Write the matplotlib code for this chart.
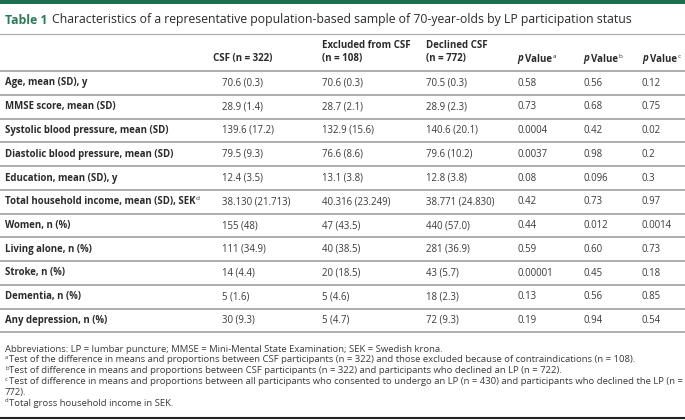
import matplotlib.pyplot as plt
from matplotlib.lines import Line2D
from matplotlib.patches import Rectangle

plt.rcParams['font.family'] = ['Open Sans', 'DejaVu Sans']

# table content
title_num = 'Table 1'
title_txt = 'Characteristics of a representative population-based sample of 70-year-olds by LP participation status'

row_labels = ['Age, mean (SD), y', 'MMSE score, mean (SD)', 'Systolic blood pressure, mean (SD)',
              'Diastolic blood pressure, mean (SD)', 'Education, mean (SD), y',
              'Total household income, mean (SD), SEK', 'Women, n (%)', 'Living alone, n (%)',
              'Stroke, n (%)', 'Dementia, n (%)', 'Any depression, n (%)']
label_sup = ['', '', '', '', '', 'd', '', '', '', '', '']

csf = ['70.6 (0.3)', '28.9 (1.4)', '139.6 (17.2)', '79.5 (9.3)', '12.4 (3.5)', '38.130 (21.713)',
       '155 (48)', '111 (34.9)', '14 (4.4)', '5 (1.6)', '30 (9.3)']
excluded = ['70.6 (0.3)', '28.7 (2.1)', '132.9 (15.6)', '76.6 (8.6)', '13.1 (3.8)', '40.316 (23.249)',
            '47 (43.5)', '40 (38.5)', '20 (18.5)', '5 (4.6)', '5 (4.7)']
declined = ['70.5 (0.3)', '28.9 (2.3)', '140.6 (20.1)', '79.6 (10.2)', '12.8 (3.8)', '38.771 (24.830)',
            '440 (57.0)', '281 (36.9)', '43 (5.7)', '18 (2.3)', '72 (9.3)']
p_a = ['0.58', '0.73', '0.0004', '0.0037', '0.08', '0.42', '0.44', '0.59', '0.00001', '0.13', '0.19']
p_b = ['0.56', '0.68', '0.42', '0.98', '0.096', '0.73', '0.012', '0.60', '0.45', '0.56', '0.94']
p_c = ['0.12', '0.75', '0.02', '0.2', '0.3', '0.97', '0.0014', '0.73', '0.18', '0.85', '0.54']

footnotes = [
    ('', 'Abbreviations: LP = lumbar puncture; MMSE = Mini-Mental State Examination; SEK = Swedish krona.'),
    ('a', 'Test of the difference in means and proportions between CSF participants (n = 322) and those excluded because of contraindications (n = 108).'),
    ('b', 'Test of difference in means and proportions between CSF participants (n = 322) and participants who declined an LP (n = 722).'),
    ('c', 'Test of difference in means and proportions between all participants who consented to undergo an LP (n = 430) and participants who declined the LP (n ='),
    ('', '772).'),
    ('d', 'Total gross household income in SEK.'),
]

W, H = 685, 420
GREEN = '#1f6e4e'
DARK = '#2b2b2b'
BODY = '#3a3a3a'
GRID = '#a8a8a8'

fig = plt.figure(figsize=(W / 100, H / 100), dpi=100)
fig.patch.set_facecolor('white')
r = fig.canvas.get_renderer()


def fx(x):
    return x / W


def fy(y):
    return 1 - y / H


def txt(x, y, s, **kw):
    kw.setdefault('va', 'center')
    return fig.text(fx(x), fy(y), s, **kw)


def right_of(t):
    bb = t.get_window_extent(renderer=r)
    return bb.x1


def hline(y, lw=1.0, color=GRID, x0=0, x1=W):
    fig.add_artist(Line2D([fx(x0), fx(x1)], [fy(y), fy(y)], lw=lw, color=color))


# top bar and title
fig.add_artist(Rectangle((0, fy(4)), 1, 4 / H, color=GREEN, lw=0))
t = txt(5, 20, title_num, fontsize=8.8, fontweight='bold', color='#2a7a58')
txt(right_of(t) + 5, 20, title_txt, fontsize=8.8, color=DARK)
hline(33.5, lw=0.8, color=GRID)

# header
hs = 7.0
ls = 6.9
ds = 6.9
colx = [213, 322, 426, 517, 583, 642]
txt(colx[0], 59, 'CSF (n = 322)', fontsize=hs, fontweight='bold', color=DARK)
txt(colx[1], 46, 'Excluded from CSF', fontsize=hs, fontweight='bold', color=DARK)
txt(colx[1], 59, '(n = 108)', fontsize=hs, fontweight='bold', color=DARK)
txt(colx[2], 46, 'Declined CSF', fontsize=hs, fontweight='bold', color=DARK)
txt(colx[2], 59, '(n = 772)', fontsize=hs, fontweight='bold', color=DARK)
for x, sup in zip(colx[3:], ['a', 'b', 'c']):
    t1 = txt(x, 59, 'p', fontsize=hs, fontweight='bold', style='italic', color=DARK)
    t2 = txt(right_of(t1) + 2.5, 59, 'Value', fontsize=hs, fontweight='bold', color=DARK)
    txt(right_of(t2) + 0.5, 56, sup, fontsize=4.6, color=DARK)
hline(70.7, lw=1.3)

# body rows
y0, step = 83, 23.75
datax = [222, 322, 426, 517, 583, 642]
cols = [csf, excluded, declined, p_a, p_b, p_c]
for i, lab in enumerate(row_labels):
    y = y0 + i * step
    t = txt(5, y, lab, fontsize=ls, fontweight='bold', color=DARK)
    if label_sup[i]:
        txt(right_of(t) + 0.5, y - 3, label_sup[i], fontsize=4.6, color=DARK)
    for x, col in zip(datax, cols):
        txt(x, y, col[i], fontsize=ds, color=BODY)
    if i < len(row_labels) - 1:
        hline(y + step / 2, lw=1.3)
hline(y0 + (len(row_labels) - 0.5) * step, lw=1.3)

# footnotes
fs = 6.8
for j, (sup, s) in enumerate(footnotes):
    y = 349 + j * 10.9
    if sup:
        txt(5, y - 2.5, sup, fontsize=4.2, color=BODY)
        txt(9, y, s, fontsize=fs, color=BODY)
    else:
        txt(5, y, s, fontsize=fs, color=BODY)
hline(418, lw=1.5, color='#222222')

fig.savefig('out.png', dpi=100)
